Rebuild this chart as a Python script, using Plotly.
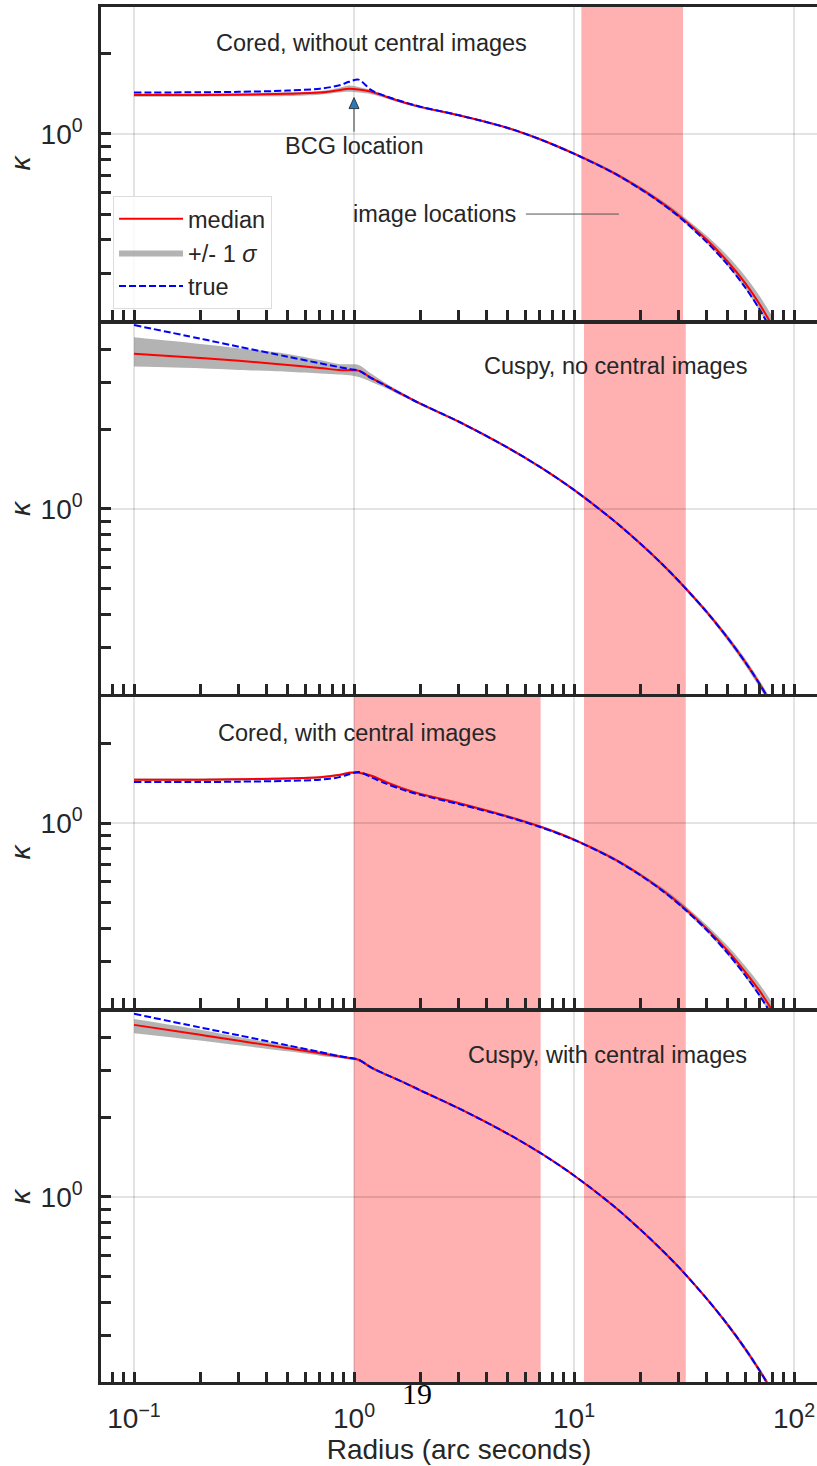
import math
import plotly.graph_objects as go

# ---------------------------------------------------------------------------
# Convergence profiles kappa(r): median, +/- 1 sigma band and true profile
# ---------------------------------------------------------------------------
radius = [0.1, 0.2, 0.3, 0.5, 0.7, 0.85, 0.95, 1.05, 1.2, 1.4, 1.7, 2.0,
          3.0, 5.0, 7.0, 10, 15, 20, 25, 30, 40, 50, 60, 70, 80]

# Cored, without central images
cored_nc_median = [1.40, 1.40, 1.405, 1.415, 1.43, 1.46, 1.48, 1.47, 1.44, 1.38, 1.31, 1.264,
                   1.175, 1.053, 0.955, 0.843, 0.717, 0.624, 0.552, 0.493, 0.401, 0.331, 0.275, 0.228, 0.189]
cored_nc_lo = [1.38, 1.38, 1.385, 1.39, 1.405, 1.43, 1.44, 1.43, 1.41, 1.36, 1.295, 1.25,
               1.165, 1.043, 0.945, 0.833, 0.707, 0.614, 0.541, 0.482, 0.389, 0.318, 0.262, 0.215, 0.177]
cored_nc_hi = [1.42, 1.42, 1.425, 1.435, 1.45, 1.49, 1.52, 1.50, 1.46, 1.395, 1.325, 1.276,
               1.185, 1.063, 0.965, 0.853, 0.727, 0.634, 0.563, 0.505, 0.415, 0.348, 0.292, 0.245, 0.205]
cored_nc_true = [1.43, 1.435, 1.44, 1.455, 1.48, 1.52, 1.57, 1.60, 1.46, 1.385, 1.315, 1.266,
                 1.175, 1.053, 0.955, 0.843, 0.716, 0.622, 0.549, 0.489, 0.393, 0.322, 0.265, 0.218, 0.179]

# Cuspy, no central images
cuspy_nc_median = [3.86, 3.72, 3.63, 3.50, 3.41, 3.35, 3.34, 3.33, 3.12, 2.92, 2.68, 2.50,
                   2.135, 1.704, 1.441, 1.180, 0.910, 0.740, 0.622, 0.533, 0.409, 0.325, 0.264, 0.217, 0.180]
cuspy_nc_lo = [3.45, 3.40, 3.35, 3.30, 3.25, 3.22, 3.20, 3.15, 3.02, 2.86, 2.64, 2.47,
               2.115, 1.688, 1.427, 1.168, 0.90, 0.73, 0.613, 0.525, 0.401, 0.317, 0.256, 0.21, 0.174]
cuspy_nc_hi = [4.45, 4.20, 4.05, 3.85, 3.65, 3.53, 3.52, 3.50, 3.24, 2.98, 2.72, 2.53,
               2.155, 1.72, 1.455, 1.192, 0.92, 0.75, 0.631, 0.541, 0.417, 0.333, 0.272, 0.224, 0.186]
cuspy_nc_true = [4.95, 4.40, 4.10, 3.76, 3.55, 3.44, 3.38, 3.33, 3.12, 2.92, 2.68, 2.50,
                 2.135, 1.704, 1.441, 1.180, 0.910, 0.740, 0.622, 0.533, 0.409, 0.325, 0.264, 0.217, 0.180]

# Cored, with central images
cored_c_median = [1.46, 1.46, 1.465, 1.475, 1.49, 1.52, 1.55, 1.55, 1.51, 1.43, 1.345, 1.29,
                  1.19, 1.06, 0.971, 0.867, 0.737, 0.638, 0.561, 0.498, 0.400, 0.329, 0.274, 0.231, 0.195]
cored_c_lo = [1.445, 1.445, 1.45, 1.46, 1.475, 1.505, 1.535, 1.535, 1.495, 1.415, 1.33, 1.277,
              1.178, 1.049, 0.961, 0.857, 0.727, 0.628, 0.550, 0.487, 0.389, 0.317, 0.262, 0.219, 0.184]
cored_c_hi = [1.475, 1.475, 1.48, 1.49, 1.505, 1.535, 1.565, 1.565, 1.525, 1.445, 1.36, 1.303,
              1.202, 1.071, 0.981, 0.877, 0.747, 0.648, 0.572, 0.51, 0.413, 0.343, 0.288, 0.245, 0.208]
cored_c_true = [1.43, 1.43, 1.435, 1.445, 1.46, 1.49, 1.53, 1.56, 1.49, 1.41, 1.33, 1.28,
                1.18, 1.055, 0.967, 0.864, 0.735, 0.636, 0.558, 0.494, 0.395, 0.322, 0.266, 0.222, 0.186]

# Cuspy, with central images
cuspy_c_median = [4.47, 4.10, 3.89, 3.65, 3.49, 3.40, 3.35, 3.30, 3.08, 2.90, 2.70, 2.53,
                  2.16, 1.733, 1.47, 1.206, 0.930, 0.754, 0.632, 0.542, 0.414, 0.329, 0.267, 0.220, 0.183]
cuspy_c_lo = [4.16, 3.90, 3.74, 3.55, 3.42, 3.35, 3.31, 3.26, 3.04, 2.87, 2.68, 2.51,
              2.145, 1.721, 1.46, 1.197, 0.922, 0.747, 0.625, 0.535, 0.408, 0.323, 0.261, 0.215, 0.178]
cuspy_c_hi = [4.70, 4.28, 4.02, 3.74, 3.55, 3.45, 3.39, 3.33, 3.11, 2.93, 2.72, 2.55,
              2.175, 1.745, 1.48, 1.215, 0.938, 0.761, 0.639, 0.549, 0.42, 0.335, 0.273, 0.225, 0.188]
cuspy_c_true = [4.92, 4.37, 4.08, 3.74, 3.53, 3.41, 3.36, 3.30, 3.08, 2.90, 2.70, 2.53,
                2.16, 1.733, 1.47, 1.206, 0.930, 0.754, 0.632, 0.542, 0.414, 0.329, 0.267, 0.220, 0.183]

# Radial ranges covered by lensed images (arcsec)
images_cored_nc = [(10.8, 31.3)]
images_cuspy_nc = [(11.1, 32.2)]
images_cored_c = [(1.0, 7.05), (11.1, 32.2)]
images_cuspy_c = [(1.0, 7.05), (11.1, 32.2)]

panel_titles = ["Cored, without central images", "Cuspy, no central images",
                "Cored, with central images", "Cuspy, with central images"]

# Axis ticks
x_major = [0.1, 1, 10, 100]
x_major_text = ["10<sup>\u22121</sup>", "10<sup>0</sup>", "10<sup>1</sup>", "10<sup>2</sup>"]
x_minor = [0.08, 0.09, 0.2, 0.3, 0.4, 0.5, 0.6, 0.7, 0.8, 0.9,
           2, 3, 4, 5, 6, 7, 8, 9, 20, 30, 40, 50, 60, 70, 80, 90]
y_major = [1]
y_major_text = ["10<sup>0</sup>"]
y_minor_short = [0.3, 0.4, 0.5, 0.6, 0.7, 0.8, 0.9, 2]
y_minor_tall = [0.3, 0.4, 0.5, 0.6, 0.7, 0.8, 0.9, 2, 3, 4]
y_limits_short = (0.2, 3.0)
y_limits_tall = (0.2, 5.0)

# BCG marker and image-location pointer
bcg_radius, bcg_kappa, bcg_text_kappa = 1.0, 1.37, 0.90
img_label_radius, img_label_kappa = 16.0, 0.5

panels = [
    dict(median=cored_nc_median, lo=cored_nc_lo, hi=cored_nc_hi, true=cored_nc_true,
         spans=images_cored_nc, ylim=y_limits_short, yminor=y_minor_short,
         domain=[0.7724, 1.0], title_pos=(0.378, 0.885)),
    dict(median=cuspy_nc_median, lo=cuspy_nc_lo, hi=cuspy_nc_hi, true=cuspy_nc_true,
         spans=images_cuspy_nc, ylim=y_limits_tall, yminor=y_minor_tall,
         domain=[0.5004, 0.7695], title_pos=(0.718, 0.886)),
    dict(median=cored_c_median, lo=cored_c_lo, hi=cored_c_hi, true=cored_c_true,
         spans=images_cored_c, ylim=y_limits_short, yminor=y_minor_short,
         domain=[0.2720, 0.4982], title_pos=(0.3575, 0.884)),
    dict(median=cuspy_c_median, lo=cuspy_c_lo, hi=cuspy_c_hi, true=cuspy_c_true,
         spans=images_cuspy_c, ylim=y_limits_tall, yminor=y_minor_tall,
         domain=[0.0, 0.2691], title_pos=(0.707, 0.884)),
]

FONT = "Arial, Liberation Sans, Helvetica, sans-serif"
INK = "#262626"
GRID = "rgba(0,0,0,0.11)"
BAND = "rgba(128,128,128,0.6)"
SPAN = "rgba(255,0,0,0.31)"
TXT = 23.5
SMOOTH = dict(shape="spline", smoothing=0.9)

fig = go.Figure()
shapes = []
annotations = []
layout_axes = {}

for i, p in enumerate(panels, start=1):
    xs = "x" if i == 1 else f"x{i}"
    ys = "y" if i == 1 else f"y{i}"
    first = i == 1

    fig.add_trace(go.Scatter(x=radius, y=p["lo"], xaxis=xs, yaxis=ys, mode="lines",
                             line=dict(width=0, **SMOOTH), showlegend=False, hoverinfo="skip"))
    fig.add_trace(go.Scatter(x=radius, y=p["hi"], xaxis=xs, yaxis=ys, mode="lines",
                             line=dict(width=0, **SMOOTH), fill="tonexty", fillcolor=BAND,
                             name="+/- 1 <i>\u03c3</i>", legendrank=2, showlegend=first))
    fig.add_trace(go.Scatter(x=radius, y=p["median"], xaxis=xs, yaxis=ys, mode="lines",
                             line=dict(color="#ff0000", width=2, **SMOOTH),
                             name="median", legendrank=1, showlegend=first))
    fig.add_trace(go.Scatter(x=radius, y=p["true"], xaxis=xs, yaxis=ys, mode="lines",
                             line=dict(color="#0000ff", width=2, dash="7px,3px", **SMOOTH),
                             name="true", legendrank=3, showlegend=first))

    for r0, r1 in p["spans"]:
        shapes.append(dict(type="rect", xref=xs, yref=f"{ys} domain", x0=r0, x1=r1,
                           y0=0, y1=1, fillcolor=SPAN, line=dict(width=0), layer="below"))

    tx, ty = p["title_pos"]
    annotations.append(dict(text=panel_titles[i - 1], xref=f"{xs} domain", yref=f"{ys} domain",
                            x=tx, y=ty, xanchor="center", yanchor="middle", showarrow=False,
                            font=dict(size=TXT, color=INK, family=FONT)))

    bottom = i == 4
    layout_axes["xaxis" if first else f"xaxis{i}"] = dict(
        type="log", range=[-1.15, 2.1045], domain=[0, 1], anchor=ys,
        matches=None if first else "x",
        showline=True, linecolor=INK, linewidth=2.5, mirror=True,
        ticks="inside", ticklen=10, tickwidth=2.5, tickcolor=INK,
        tickmode="array", tickvals=x_major, ticktext=x_major_text,
        showticklabels=bottom, tickfont=dict(size=28, color=INK, family=FONT),
        ticklabelstandoff=10,
        showgrid=True, gridcolor=GRID, gridwidth=1.5, zeroline=False,
        minor=dict(tickmode="array", tickvals=x_minor, ticks="inside", ticklen=10,
                   tickwidth=2.5, tickcolor=INK, showgrid=False),
        title=dict(text="Radius (arc seconds)" if bottom else "",
                   font=dict(size=28, color=INK, family=FONT), standoff=2),
    )
    lo_lim, hi_lim = p["ylim"]
    layout_axes["yaxis" if first else f"yaxis{i}"] = dict(
        type="log", range=[math.log10(lo_lim), math.log10(hi_lim)], domain=p["domain"], anchor=xs,
        showline=True, linecolor=INK, linewidth=2.5, mirror=False,
        ticks="inside", ticklen=10, tickwidth=2.5, tickcolor=INK,
        tickmode="array", tickvals=y_major, ticktext=y_major_text,
        tickfont=dict(size=28, color=INK, family=FONT), ticklabelstandoff=10,
        showgrid=True, gridcolor=GRID, gridwidth=1.5, zeroline=False,
        minor=dict(tickmode="array", tickvals=p["yminor"], ticks="inside", ticklen=10,
                   tickwidth=2.5, tickcolor=INK, showgrid=False),
        title=dict(text="<i>\u03ba</i>", font=dict(size=28, color=INK, family=FONT), standoff=2),
    )

# BCG location: label with a thin shaft ending under a filled triangular head
annotations.append(dict(text="BCG location", xref="x", yref="y",
                        x=math.log10(bcg_radius), y=math.log10(bcg_kappa),
                        axref="x", ayref="y", ax=math.log10(bcg_radius), ay=math.log10(bcg_text_kappa),
                        showarrow=True, arrowhead=0, arrowwidth=1, arrowcolor="#404040", standoff=11,
                        font=dict(size=TXT, color=INK, family=FONT)))
shapes.append(dict(type="path", xref="x", yref="y", xsizemode="pixel", ysizemode="pixel",
                   xanchor=bcg_radius, yanchor=bcg_kappa, path="M0,0 L-5,-11 L5,-11 Z",
                   fillcolor="#2b7bba", line=dict(color="#1a1a1a", width=0.8), layer="above"))

# Image locations pointer
annotations.append(dict(text="image locations", xref="x", yref="y",
                        x=math.log10(img_label_radius), y=math.log10(img_label_kappa),
                        ax=-184, ay=0, showarrow=True, arrowhead=0, arrowwidth=1,
                        arrowcolor="#555555", startstandoff=8,
                        font=dict(size=TXT, color=INK, family=FONT)))

# Page number
annotations.append(dict(text="19", xref="paper", yref="paper", x=0.441, y=-0.0087,
                        xanchor="center", yanchor="middle", showarrow=False,
                        font=dict(size=30, color="#000000", family="Liberation Serif, DejaVu Serif, serif")))

fig.update_layout(
    width=817, height=1466,
    margin=dict(l=101, r=0, t=7, b=84),
    paper_bgcolor="white", plot_bgcolor="white",
    font=dict(family=FONT, color=INK),
    showlegend=True,
    legend=dict(x=0.0168, y=0.8625, xanchor="left", yanchor="top",
                font=dict(size=TXT, color=INK, family=FONT),
                bgcolor="rgba(255,255,255,0.8)", bordercolor="#dddddd", borderwidth=1,
                traceorder="normal", tracegroupgap=0, itemwidth=64),
    shapes=shapes,
    annotations=annotations,
    hovermode=False,
    **layout_axes,
)

fig.write_html("out.html")
